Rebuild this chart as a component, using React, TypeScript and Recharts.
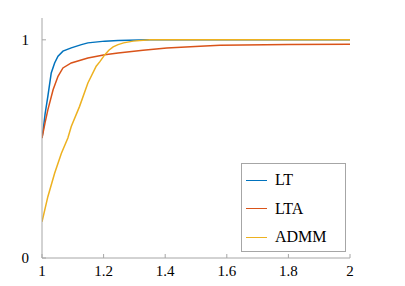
import React from 'react';
import { LineChart, Line, XAxis, YAxis } from 'recharts';

const xTicks = [1, 1.2, 1.4, 1.6, 1.8, 2];
const yTicks = [0, 1];
const seriesNames = ['LT', 'LTA', 'ADMM'];
const seriesColors = ['#0072BD', '#D95319', '#EDB120'];

const ltX = [1.0, 1.005, 1.01, 1.019, 1.03, 1.041, 1.052, 1.068, 1.095, 1.128, 1.149, 1.204, 1.247, 1.35, 2.0];
const ltY = [0.55, 0.6, 0.66, 0.741, 0.848, 0.894, 0.925, 0.948, 0.963, 0.978, 0.986, 0.994, 0.997, 1.0, 1.0];

const ltaX = [1.0, 1.01, 1.019, 1.036, 1.052, 1.068, 1.095, 1.149, 1.204, 1.247, 1.328, 1.405, 1.513, 1.578, 1.8, 2.0];
const ltaY = [0.549, 0.62, 0.679, 0.771, 0.833, 0.871, 0.894, 0.917, 0.932, 0.94, 0.952, 0.963, 0.97, 0.975, 0.978, 0.98];

const admmX = [1.0, 1.019, 1.041, 1.063, 1.084, 1.095, 1.122, 1.149, 1.176, 1.188, 1.204, 1.217, 1.231, 1.247, 1.265, 1.296, 1.35, 2.0];
const admmY = [0.166, 0.281, 0.388, 0.48, 0.55, 0.603, 0.695, 0.802, 0.879, 0.9, 0.932, 0.952, 0.968, 0.978, 0.986, 0.994, 1.0, 1.0];

const toData = (xs: number[], ys: number[]) => xs.map((x, i) => ({ x, y: ys[i] }));
const seriesData = [toData(ltX, ltY), toData(ltaX, ltaY), toData(admmX, admmY)];

const FONT = "'Liberation Serif', 'DejaVu Serif', serif";
const AXIS = '#a6a6a6';

const XTick = (props: any) => {
  const { x, y, payload } = props;
  return (
    <text x={x} y={y} dy={11} textAnchor="middle" fill="#000" fontSize={15} style={{ fontFamily: FONT }}>
      {String(payload.value)}
    </text>
  );
};

const YTick = (props: any) => {
  const { x, y, payload } = props;
  return (
    <text x={x} y={y} dy={5} textAnchor="end" fill="#000" fontSize={15} style={{ fontFamily: FONT }}>
      {String(payload.value)}
    </text>
  );
};

const LegendBox = () => (
  <div
    style={{
      position: 'absolute',
      left: 241,
      top: 163,
      width: 105,
      height: 89,
      border: `1px solid ${AXIS}`,
      boxSizing: 'border-box',
      background: '#fff',
      fontFamily: FONT,
      fontSize: 16,
      color: '#000',
    }}
  >
    {seriesNames.map((n, i) => (
      <div key={n} style={{ position: 'absolute', left: 4, top: 7 + i * 28.7, height: 18, display: 'flex', alignItems: 'center' }}>
        <div style={{ width: 21, height: 0, borderTop: `1.5px solid ${seriesColors[i]}` }} />
        <span style={{ marginLeft: 8 }}>{n}</span>
      </div>
    ))}
  </div>
);

export default function App() {
  return (
    <div style={{ position: 'absolute', left: 0, top: 0, width: 405, height: 286, background: '#fff' }}>
      <LineChart width={405} height={286} margin={{ top: 18, right: 55, bottom: 0, left: 12 }}>
        <XAxis
          xAxisId="b"
          type="number"
          dataKey="x"
          domain={[1, 2]}
          ticks={xTicks}
          orientation="bottom"
          height={28}
          stroke={AXIS}
          tickSize={-4}
          tickMargin={11}
          tick={<XTick />}
          allowDataOverflow
        />
        <XAxis
          xAxisId="t"
          type="number"
          dataKey="x"
          domain={[1, 2]}
          ticks={xTicks}
          orientation="top"
          height={0}
          stroke={AXIS}
          tickSize={-4}
          tick={false}
          allowDataOverflow
        />
        <YAxis
          yAxisId="l"
          type="number"
          domain={[0, 1.1]}
          ticks={yTicks}
          orientation="left"
          width={30}
          stroke={AXIS}
          tickSize={-4}
          tickMargin={17}
          tick={<YTick />}
          allowDataOverflow
        />
        <YAxis
          yAxisId="r"
          type="number"
          domain={[0, 1.1]}
          ticks={yTicks}
          orientation="right"
          width={0}
          stroke={AXIS}
          tickLine={false}
          tick={false}
          allowDataOverflow
        />
        {seriesNames.map((n, i) => (
          <Line
            key={n}
            name={n}
            xAxisId="b"
            yAxisId="l"
            data={seriesData[i]}
            dataKey="y"
            type="linear"
            stroke={seriesColors[i]}
            strokeWidth={1.5}
            dot={false}
            activeDot={false}
            isAnimationActive={false}
          />
        ))}
      </LineChart>
      <LegendBox />
    </div>
  );
}
